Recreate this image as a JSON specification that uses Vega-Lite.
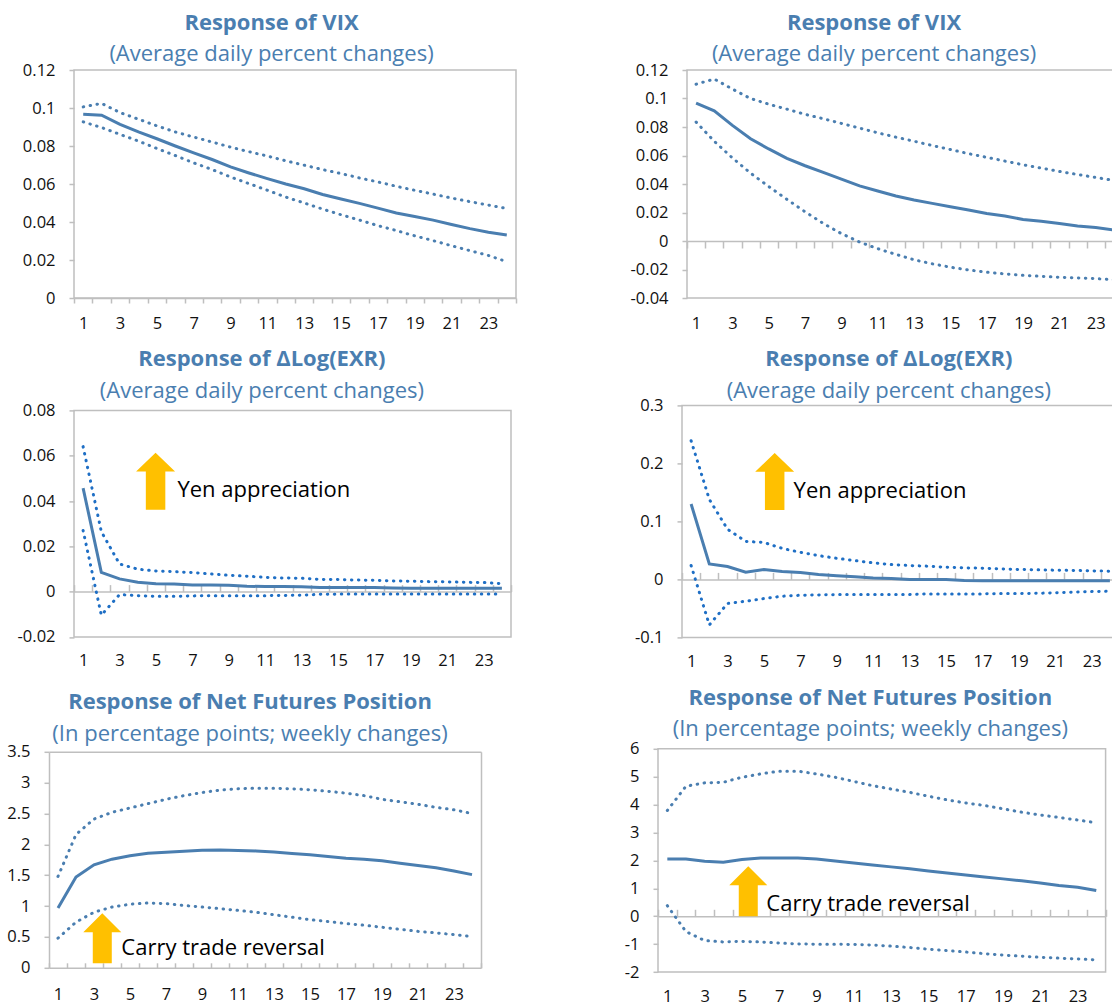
{
  "$schema": "https://vega.github.io/schema/vega-lite/v6.json",
  "padding": {"top": 10, "left": 0, "right": 0, "bottom": 0},
  "datasets": {
    "vix_l": [
      {"h":1,"irf":0.0967,"lo":0.0927,"hi":0.1006},{"h":2,"irf":0.0962,"lo":0.0897,"hi":0.1024},{"h":3,"irf":0.0914,"lo":0.0861,"hi":0.0976},{"h":4,"irf":0.0874,"lo":0.0826,"hi":0.0941},{"h":5,"irf":0.0838,"lo":0.0787,"hi":0.0906},{"h":6,"irf":0.08,"lo":0.075,"hi":0.0874},{"h":7,"irf":0.0764,"lo":0.0711,"hi":0.0847},{"h":8,"irf":0.0729,"lo":0.0676,"hi":0.0821},{"h":9,"irf":0.069,"lo":0.0637,"hi":0.0794},{"h":10,"irf":0.0658,"lo":0.0602,"hi":0.077},{"h":11,"irf":0.0628,"lo":0.0567,"hi":0.0747},{"h":12,"irf":0.06,"lo":0.0531,"hi":0.0722},{"h":13,"irf":0.0575,"lo":0.05,"hi":0.0699},{"h":14,"irf":0.0545,"lo":0.0468,"hi":0.0676},{"h":15,"irf":0.0521,"lo":0.0438,"hi":0.0655},{"h":16,"irf":0.0498,"lo":0.041,"hi":0.0632},{"h":17,"irf":0.0473,"lo":0.0381,"hi":0.0611},{"h":18,"irf":0.0447,"lo":0.0355,"hi":0.0588},{"h":19,"irf":0.0429,"lo":0.0327,"hi":0.0567},{"h":20,"irf":0.041,"lo":0.0302,"hi":0.0547},{"h":21,"irf":0.0387,"lo":0.0275,"hi":0.0526},{"h":22,"irf":0.0365,"lo":0.0249,"hi":0.0507},{"h":23,"irf":0.0346,"lo":0.0224,"hi":0.0489},{"h":24,"irf":0.0332,"lo":0.0191,"hi":0.0471}
    ],
    "vix_r": [
      {"h":1,"irf":0.0967,"lo":0.0835,"hi":0.11},{"h":2,"irf":0.0913,"lo":0.07,"hi":0.1137},{"h":3,"irf":0.0811,"lo":0.0583,"hi":0.1066},{"h":4,"irf":0.0717,"lo":0.0476,"hi":0.1},{"h":5,"irf":0.0646,"lo":0.0382,"hi":0.096},{"h":6,"irf":0.058,"lo":0.0292,"hi":0.0925},{"h":7,"irf":0.0528,"lo":0.0205,"hi":0.0889},{"h":8,"irf":0.0481,"lo":0.0123,"hi":0.0858},{"h":9,"irf":0.0434,"lo":0.0052,"hi":0.0825},{"h":10,"irf":0.0387,"lo":-0.0007,"hi":0.0792},{"h":11,"irf":0.0351,"lo":-0.0054,"hi":0.0759},{"h":12,"irf":0.0316,"lo":-0.0094,"hi":0.0729},{"h":13,"irf":0.0288,"lo":-0.0132,"hi":0.07},{"h":14,"irf":0.0264,"lo":-0.016,"hi":0.067},{"h":15,"irf":0.0241,"lo":-0.0184,"hi":0.0642},{"h":16,"irf":0.0217,"lo":-0.0203,"hi":0.0613},{"h":17,"irf":0.0193,"lo":-0.0219,"hi":0.0587},{"h":18,"irf":0.0175,"lo":-0.0231,"hi":0.0561},{"h":19,"irf":0.0151,"lo":-0.0241,"hi":0.0535},{"h":20,"irf":0.0139,"lo":-0.0248,"hi":0.0512},{"h":21,"irf":0.0123,"lo":-0.0255,"hi":0.0488},{"h":22,"irf":0.0106,"lo":-0.0259,"hi":0.0467},{"h":23,"irf":0.0094,"lo":-0.0264,"hi":0.0446},{"h":24,"irf":0.0078,"lo":-0.0272,"hi":0.0425}
    ],
    "exr_l": [
      {"h":1,"irf":0.0457,"lo":0.027,"hi":0.064},{"h":2,"irf":0.0085,"lo":-0.0104,"hi":0.0265},{"h":3,"irf":0.0056,"lo":-0.0013,"hi":0.0122},{"h":4,"irf":0.0041,"lo":-0.0018,"hi":0.0099},{"h":5,"irf":0.0035,"lo":-0.0021,"hi":0.0091},{"h":6,"irf":0.0034,"lo":-0.0021,"hi":0.0088},{"h":7,"irf":0.0029,"lo":-0.0019,"hi":0.0084},{"h":8,"irf":0.0029,"lo":-0.0018,"hi":0.0078},{"h":9,"irf":0.0028,"lo":-0.0018,"hi":0.0072},{"h":10,"irf":0.0024,"lo":-0.0018,"hi":0.0068},{"h":11,"irf":0.0022,"lo":-0.0018,"hi":0.0063},{"h":12,"irf":0.0022,"lo":-0.0017,"hi":0.006},{"h":13,"irf":0.0021,"lo":-0.0016,"hi":0.0059},{"h":14,"irf":0.0018,"lo":-0.0012,"hi":0.0054},{"h":15,"irf":0.0018,"lo":-0.0011,"hi":0.0053},{"h":16,"irf":0.0018,"lo":-0.0011,"hi":0.0051},{"h":17,"irf":0.0018,"lo":-0.0011,"hi":0.005},{"h":18,"irf":0.0016,"lo":-0.0011,"hi":0.0047},{"h":19,"irf":0.0015,"lo":-0.0011,"hi":0.0046},{"h":20,"irf":0.0015,"lo":-0.0011,"hi":0.0044},{"h":21,"irf":0.0015,"lo":-0.0011,"hi":0.0043},{"h":22,"irf":0.0015,"lo":-0.0011,"hi":0.0041},{"h":23,"irf":0.0015,"lo":-0.0011,"hi":0.004},{"h":24,"irf":0.0015,"lo":-0.0011,"hi":0.0035}
    ],
    "exr_r": [
      {"h":1,"irf":0.13,"lo":0.024,"hi":0.239},{"h":2,"irf":0.0267,"lo":-0.0785,"hi":0.138},{"h":3,"irf":0.0222,"lo":-0.0415,"hi":0.0865},{"h":4,"irf":0.0125,"lo":-0.0376,"hi":0.0655},{"h":5,"irf":0.0171,"lo":-0.033,"hi":0.0637},{"h":6,"irf":0.0137,"lo":-0.029,"hi":0.0535},{"h":7,"irf":0.012,"lo":-0.0273,"hi":0.0467},{"h":8,"irf":0.0085,"lo":-0.0267,"hi":0.041},{"h":9,"irf":0.0063,"lo":-0.0262,"hi":0.0364},{"h":10,"irf":0.0046,"lo":-0.0262,"hi":0.0324},{"h":11,"irf":0.0023,"lo":-0.0262,"hi":0.0285},{"h":12,"irf":0.0017,"lo":-0.0262,"hi":0.0256},{"h":13,"irf":0.0,"lo":-0.0262,"hi":0.0239},{"h":14,"irf":0.0,"lo":-0.025,"hi":0.0228},{"h":15,"irf":0.0,"lo":-0.025,"hi":0.021},{"h":16,"irf":-0.0017,"lo":-0.025,"hi":0.0199},{"h":17,"irf":-0.0023,"lo":-0.025,"hi":0.0194},{"h":18,"irf":-0.0023,"lo":-0.0245,"hi":0.0182},{"h":19,"irf":-0.0023,"lo":-0.0245,"hi":0.0171},{"h":20,"irf":-0.0023,"lo":-0.024,"hi":0.0165},{"h":21,"irf":-0.0023,"lo":-0.023,"hi":0.0159},{"h":22,"irf":-0.0023,"lo":-0.022,"hi":0.0154},{"h":23,"irf":-0.0023,"lo":-0.021,"hi":0.0148},{"h":24,"irf":-0.0023,"lo":-0.0205,"hi":0.014}
    ],
    "nfp_l": [
      {"h":1,"irf":0.969,"lo":0.48,"hi":1.48},{"h":2,"irf":1.47,"lo":0.74,"hi":2.16},{"h":3,"irf":1.668,"lo":0.9,"hi":2.41},{"h":4,"irf":1.76,"lo":0.985,"hi":2.52},{"h":5,"irf":1.814,"lo":1.03,"hi":2.59},{"h":6,"irf":1.857,"lo":1.05,"hi":2.66},{"h":7,"irf":1.873,"lo":1.04,"hi":2.73},{"h":8,"irf":1.889,"lo":1.01,"hi":2.79},{"h":9,"irf":1.905,"lo":0.985,"hi":2.84},{"h":10,"irf":1.91,"lo":0.958,"hi":2.88},{"h":11,"irf":1.9,"lo":0.93,"hi":2.9},{"h":12,"irf":1.894,"lo":0.9,"hi":2.91},{"h":13,"irf":1.878,"lo":0.86,"hi":2.91},{"h":14,"irf":1.851,"lo":0.82,"hi":2.9},{"h":15,"irf":1.83,"lo":0.78,"hi":2.885},{"h":16,"irf":1.803,"lo":0.75,"hi":2.86},{"h":17,"irf":1.776,"lo":0.716,"hi":2.83},{"h":18,"irf":1.76,"lo":0.69,"hi":2.79},{"h":19,"irf":1.733,"lo":0.657,"hi":2.73},{"h":20,"irf":1.695,"lo":0.624,"hi":2.69},{"h":21,"irf":1.658,"lo":0.59,"hi":2.65},{"h":22,"irf":1.62,"lo":0.565,"hi":2.6},{"h":23,"irf":1.57,"lo":0.538,"hi":2.56},{"h":24,"irf":1.51,"lo":0.506,"hi":2.5}
    ],
    "nfp_r": [
      {"h":1,"irf":2.05,"lo":0.38,"hi":3.79},{"h":2,"irf":2.05,"lo":-0.55,"hi":4.66},{"h":3,"irf":1.97,"lo":-0.87,"hi":4.78},{"h":4,"irf":1.94,"lo":-0.92,"hi":4.8},{"h":5,"irf":2.03,"lo":-0.9,"hi":4.98},{"h":6,"irf":2.09,"lo":-0.92,"hi":5.1},{"h":7,"irf":2.09,"lo":-0.96,"hi":5.2},{"h":8,"irf":2.09,"lo":-0.99,"hi":5.2},{"h":9,"irf":2.05,"lo":-1.0,"hi":5.1},{"h":10,"irf":1.98,"lo":-1.0,"hi":4.98},{"h":11,"irf":1.91,"lo":-1.01,"hi":4.83},{"h":12,"irf":1.84,"lo":-1.03,"hi":4.68},{"h":13,"irf":1.77,"lo":-1.07,"hi":4.56},{"h":14,"irf":1.7,"lo":-1.12,"hi":4.44},{"h":15,"irf":1.62,"lo":-1.18,"hi":4.3},{"h":16,"irf":1.55,"lo":-1.23,"hi":4.17},{"h":17,"irf":1.48,"lo":-1.28,"hi":4.06},{"h":18,"irf":1.41,"lo":-1.34,"hi":3.97},{"h":19,"irf":1.34,"lo":-1.39,"hi":3.85},{"h":20,"irf":1.27,"lo":-1.43,"hi":3.73},{"h":21,"irf":1.19,"lo":-1.47,"hi":3.63},{"h":22,"irf":1.1,"lo":-1.5,"hi":3.54},{"h":23,"irf":1.04,"lo":-1.53,"hi":3.45},{"h":24,"irf":0.92,"lo":-1.56,"hi":3.35}
    ],
    "notes": [
      {"panel":"exr_l","text":"Yen appreciation","ax":4.98,"ay":0.0487,"tx":6.18,"ty":0.0448},
      {"panel":"exr_r","text":"Yen appreciation","ax":5.59,"ay":0.1688,"tx":6.63,"ty":0.152},
      {"panel":"nfp_l","text":"Carry trade reversal","ax":3.46,"ay":0.48,"tx":4.52,"ty":0.32},
      {"panel":"nfp_r","text":"Carry trade reversal","ax":5.34,"ay":0.9,"tx":6.31,"ty":0.45}
    ]
  },
  "concat": [
    {
      "width": 442, "height": 228,
      "title": {"text": "Response of VIX", "subtitle": "(Average daily percent changes)", "offset": -4, "dx": -23.5},
      "layer": [
        {"data": {"name": "vix_l"}, "mark": {"type": "line", "strokeWidth": 3, "color": "#4A7EB0"},
         "encoding": {
           "x": {"field": "h", "type": "quantitative", "title": null, "scale": {"domain": [0.5, 24.5], "nice": false, "zero": false},
                 "axis": {"orient": "bottom", "values": [1,3,5,7,9,11,13,15,17,19,21,23], "domain": false, "ticks": false, "tickSize": 0, "labelPadding": 17.8, "labelFlush": false}},
           "y": {"field": "irf", "type": "quantitative", "title": null, "scale": {"domain": [0, 0.12], "nice": false, "zero": false},
                 "axis": {"orient": "left", "values": [0,0.02,0.04,0.06,0.08,0.1,0.12], "labelOverlap": false, "labelExpr": "replace(format(datum.value,'~g'),'\u2212','-')", "minExtent": 72.7, "maxExtent": 72.7}}}},
        {"data": {"name": "vix_l"}, "mark": {"type": "line", "strokeWidth": 3, "strokeDash": [0.5, 6.5], "strokeCap": "round", "color": "#4A7EB0"},
         "encoding": {
           "x": {"field": "h", "type": "quantitative", "title": null, "scale": {"domain": [0.5, 24.5], "nice": false, "zero": false},
                 "axis": {"orient": "bottom", "offset": 0, "values": [0.5,1.5,2.5,3.5,4.5,5.5,6.5,7.5,8.5,9.5,10.5,11.5,12.5,13.5,14.5,15.5,16.5,17.5,18.5,19.5,20.5,21.5,22.5,23.5,24.5], "labels": false, "domain": true, "ticks": true, "tickSize": 5}},
           "y": {"field": "lo", "type": "quantitative", "title": null, "scale": {"domain": [0, 0.12], "nice": false, "zero": false}, "axis": null}}},
        {"data": {"name": "vix_l"}, "mark": {"type": "line", "strokeWidth": 3, "strokeDash": [0.5, 6.5], "strokeCap": "round", "color": "#4A7EB0"},
         "encoding": {
           "x": {"field": "h", "type": "quantitative", "title": null, "scale": {"domain": [0.5, 24.5], "nice": false, "zero": false}, "axis": null},
           "y": {"field": "hi", "type": "quantitative", "title": null, "scale": {"domain": [0, 0.12], "nice": false, "zero": false}, "axis": null}}}
      ],
      "resolve": {"axis": {"x": "independent", "y": "independent"}}
    },
    {
      "width": 436, "height": 228,
      "title": {"text": "Response of VIX", "subtitle": "(Average daily percent changes)", "offset": -4, "dx": -31},
      "layer": [
        {"data": {"name": "vix_r"}, "mark": {"type": "line", "strokeWidth": 3, "color": "#4A7EB0"},
         "encoding": {
           "x": {"field": "h", "type": "quantitative", "title": null, "scale": {"domain": [0.5, 24.5], "nice": false, "zero": false},
                 "axis": {"orient": "bottom", "values": [1,3,5,7,9,11,13,15,17,19,21,23], "domain": false, "ticks": false, "tickSize": 0, "labelPadding": 17.8, "labelFlush": false}},
           "y": {"field": "irf", "type": "quantitative", "title": null, "scale": {"domain": [-0.04, 0.12], "nice": false, "zero": false},
                 "axis": {"orient": "left", "values": [-0.04,-0.02,0,0.02,0.04,0.06,0.08,0.1,0.12], "labelOverlap": false, "labelExpr": "replace(format(datum.value,'~g'),'\u2212','-')", "minExtent": 68, "maxExtent": 68}}}},
        {"data": {"name": "vix_r"}, "mark": {"type": "line", "strokeWidth": 3, "strokeDash": [0.5, 6.5], "strokeCap": "round", "color": "#4A7EB0"},
         "encoding": {
           "x": {"field": "h", "type": "quantitative", "title": null, "scale": {"domain": [0.5, 24.5], "nice": false, "zero": false},
                 "axis": {"orient": "bottom", "offset": -57, "values": [0.5,1.5,2.5,3.5,4.5,5.5,6.5,7.5,8.5,9.5,10.5,11.5,12.5,13.5,14.5,15.5,16.5,17.5,18.5,19.5,20.5,21.5,22.5,23.5,24.5], "labels": false, "domain": true, "ticks": true, "tickSize": 7}},
           "y": {"field": "lo", "type": "quantitative", "title": null, "scale": {"domain": [-0.04, 0.12], "nice": false, "zero": false}, "axis": null}}},
        {"data": {"name": "vix_r"}, "mark": {"type": "line", "strokeWidth": 3, "strokeDash": [0.5, 6.5], "strokeCap": "round", "color": "#4A7EB0"},
         "encoding": {
           "x": {"field": "h", "type": "quantitative", "title": null, "scale": {"domain": [0.5, 24.5], "nice": false, "zero": false}, "axis": null},
           "y": {"field": "hi", "type": "quantitative", "title": null, "scale": {"domain": [-0.04, 0.12], "nice": false, "zero": false}, "axis": null}}}
      ],
      "resolve": {"axis": {"x": "independent", "y": "independent"}}
    },
    {
      "width": 437, "height": 226.5,
      "title": {"text": "Response of ΔLog(EXR)", "subtitle": "(Average daily percent changes)", "offset": -0.5, "dx": -30.6},
      "layer": [
        {"data": {"name": "exr_l"}, "mark": {"type": "line", "strokeWidth": 3, "color": "#4A7EB0"},
         "encoding": {
           "x": {"field": "h", "type": "quantitative", "title": null, "scale": {"domain": [0.5, 24.5], "nice": false, "zero": false},
                 "axis": {"orient": "bottom", "values": [1,3,5,7,9,11,13,15,17,19,21,23], "domain": false, "ticks": false, "tickSize": 0, "labelPadding": 16, "labelFlush": false, "minExtent": 33.4}},
           "y": {"field": "irf", "type": "quantitative", "title": null, "scale": {"domain": [-0.02, 0.08], "nice": false, "zero": false},
                 "axis": {"orient": "left", "values": [-0.02,0,0.02,0.04,0.06,0.08], "labelOverlap": false, "labelExpr": "replace(format(datum.value,'~g'),'\u2212','-')", "minExtent": 69.3, "maxExtent": 69.3}}}},
        {"data": {"name": "exr_l"}, "mark": {"type": "line", "strokeWidth": 3, "strokeDash": [0.5, 6.5], "strokeCap": "round", "color": "#1F6FC5"},
         "encoding": {
           "x": {"field": "h", "type": "quantitative", "title": null, "scale": {"domain": [0.5, 24.5], "nice": false, "zero": false},
                 "axis": {"orient": "top", "offset": -181.2, "values": [0.5,1.5,2.5,3.5,4.5,5.5,6.5,7.5,8.5,9.5,10.5,11.5,12.5,13.5,14.5,15.5,16.5,17.5,18.5,19.5,20.5,21.5,22.5,23.5,24.5], "labels": false, "domain": true, "ticks": true, "tickSize": 7}},
           "y": {"field": "lo", "type": "quantitative", "title": null, "scale": {"domain": [-0.02, 0.08], "nice": false, "zero": false}, "axis": null}}},
        {"data": {"name": "exr_l"}, "mark": {"type": "line", "strokeWidth": 3, "strokeDash": [0.5, 6.5], "strokeCap": "round", "color": "#1F6FC5"},
         "encoding": {
           "x": {"field": "h", "type": "quantitative", "title": null, "scale": {"domain": [0.5, 24.5], "nice": false, "zero": false}, "axis": null},
           "y": {"field": "hi", "type": "quantitative", "title": null, "scale": {"domain": [-0.02, 0.08], "nice": false, "zero": false}, "axis": null}}},
        {"data": {"name": "notes"}, "transform": [{"filter": "datum.panel == 'exr_l'"}],
         "mark": {"type": "point", "shape": "M0,-1L0.684,-0.344L0.342,-0.344L0.342,1L-0.342,1L-0.342,-0.344L-0.684,-0.344Z", "size": 3249, "filled": true, "color": "#FFC000", "opacity": 1, "strokeWidth": 0},
         "encoding": {
           "x": {"field": "ax", "type": "quantitative", "title": null, "scale": {"domain": [0.5, 24.5], "nice": false, "zero": false}, "axis": null},
           "y": {"field": "ay", "type": "quantitative", "title": null, "scale": {"domain": [-0.02, 0.08], "nice": false, "zero": false}, "axis": null}}},
        {"data": {"name": "notes"}, "transform": [{"filter": "datum.panel == 'exr_l'"}],
         "mark": {"type": "text", "align": "left", "baseline": "middle", "fontSize": 22, "font": "Open Sans", "color": "#000000"},
         "encoding": {
           "x": {"field": "tx", "type": "quantitative", "title": null, "scale": {"domain": [0.5, 24.5], "nice": false, "zero": false}, "axis": null},
           "y": {"field": "ty", "type": "quantitative", "title": null, "scale": {"domain": [-0.02, 0.08], "nice": false, "zero": false}, "axis": null},
           "text": {"field": "text"}}}
      ],
      "resolve": {"axis": {"x": "independent", "y": "independent"}}
    },
    {
      "width": 437, "height": 232,
      "title": {"text": "Response of ΔLog(EXR)", "subtitle": "(Average daily percent changes)", "offset": -5.4, "dx": -11.7},
      "layer": [
        {"data": {"name": "exr_r"}, "mark": {"type": "line", "strokeWidth": 3, "color": "#4A7EB0"},
         "encoding": {
           "x": {"field": "h", "type": "quantitative", "title": null, "scale": {"domain": [0.5, 24.5], "nice": false, "zero": false},
                 "axis": {"orient": "bottom", "values": [1,3,5,7,9,11,13,15,17,19,21,23], "domain": false, "ticks": false, "tickSize": 0, "labelPadding": 16.5, "labelFlush": false, "minExtent": 33.4}},
           "y": {"field": "irf", "type": "quantitative", "title": null, "scale": {"domain": [-0.1, 0.3], "nice": false, "zero": false},
                 "axis": {"orient": "left", "values": [-0.1,0,0.1,0.2,0.3], "labelOverlap": false, "labelExpr": "replace(format(datum.value,'~g'),'\u2212','-')", "minExtent": 62.7, "maxExtent": 62.7}}}},
        {"data": {"name": "exr_r"}, "mark": {"type": "line", "strokeWidth": 3, "strokeDash": [0.5, 6.5], "strokeCap": "round", "color": "#1F6FC5"},
         "encoding": {
           "x": {"field": "h", "type": "quantitative", "title": null, "scale": {"domain": [0.5, 24.5], "nice": false, "zero": false},
                 "axis": {"orient": "top", "offset": -174, "values": [0.5,1.5,2.5,3.5,4.5,5.5,6.5,7.5,8.5,9.5,10.5,11.5,12.5,13.5,14.5,15.5,16.5,17.5,18.5,19.5,20.5,21.5,22.5,23.5,24.5], "labels": false, "domain": true, "ticks": true, "tickSize": 7}},
           "y": {"field": "lo", "type": "quantitative", "title": null, "scale": {"domain": [-0.1, 0.3], "nice": false, "zero": false}, "axis": null}}},
        {"data": {"name": "exr_r"}, "mark": {"type": "line", "strokeWidth": 3, "strokeDash": [0.5, 6.5], "strokeCap": "round", "color": "#1F6FC5"},
         "encoding": {
           "x": {"field": "h", "type": "quantitative", "title": null, "scale": {"domain": [0.5, 24.5], "nice": false, "zero": false}, "axis": null},
           "y": {"field": "hi", "type": "quantitative", "title": null, "scale": {"domain": [-0.1, 0.3], "nice": false, "zero": false}, "axis": null}}},
        {"data": {"name": "notes"}, "transform": [{"filter": "datum.panel == 'exr_r'"}],
         "mark": {"type": "point", "shape": "M0,-1L0.684,-0.344L0.342,-0.344L0.342,1L-0.342,1L-0.342,-0.344L-0.684,-0.344Z", "size": 3249, "filled": true, "color": "#FFC000", "opacity": 1, "strokeWidth": 0},
         "encoding": {
           "x": {"field": "ax", "type": "quantitative", "title": null, "scale": {"domain": [0.5, 24.5], "nice": false, "zero": false}, "axis": null},
           "y": {"field": "ay", "type": "quantitative", "title": null, "scale": {"domain": [-0.1, 0.3], "nice": false, "zero": false}, "axis": null}}},
        {"data": {"name": "notes"}, "transform": [{"filter": "datum.panel == 'exr_r'"}],
         "mark": {"type": "text", "align": "left", "baseline": "middle", "fontSize": 22, "font": "Open Sans", "color": "#000000"},
         "encoding": {
           "x": {"field": "tx", "type": "quantitative", "title": null, "scale": {"domain": [0.5, 24.5], "nice": false, "zero": false}, "axis": null},
           "y": {"field": "ty", "type": "quantitative", "title": null, "scale": {"domain": [-0.1, 0.3], "nice": false, "zero": false}, "axis": null},
           "text": {"field": "text"}}}
      ],
      "resolve": {"axis": {"x": "independent", "y": "independent"}}
    },
    {
      "width": 407, "height": 216,
      "view": {"stroke": null},
      "title": {"text": "Response of Net Futures Position", "subtitle": "(In percentage points; weekly changes)", "offset": -2, "dx": -27.5},
      "layer": [
        {"data": {"name": "nfp_l"}, "mark": {"type": "line", "strokeWidth": 3, "color": "#4A7EB0"},
         "encoding": {
           "x": {"field": "h", "type": "quantitative", "title": null, "scale": {"domain": [0.5, 24.5], "range": [-25, 407], "nice": false, "zero": false},
                 "axis": {"orient": "bottom", "values": [1,3,5,7,9,11,13,15,17,19,21,23], "domain": false, "ticks": false, "tickSize": 0, "labelPadding": 18.3, "labelFlush": false}},
           "y": {"field": "irf", "type": "quantitative", "title": null, "scale": {"domain": [0, 3.5], "nice": false, "zero": false},
                 "axis": {"orient": "left", "offset": 25, "domain": true, "values": [0,0.5,1,1.5,2,2.5,3,3.5], "labelOverlap": false, "labelExpr": "replace(format(datum.value,'~g'),'\u2212','-')"}}}},
        {"data": {"name": "nfp_l"}, "mark": {"type": "line", "strokeWidth": 3, "strokeDash": [0.5, 6.5], "strokeCap": "round", "color": "#4A7EB0"},
         "encoding": {
           "x": {"field": "h", "type": "quantitative", "title": null, "scale": {"domain": [0.5, 24.5], "range": [-25, 407], "nice": false, "zero": false},
                 "axis": {"orient": "top", "offset": -216, "values": [0.5,1.5,2.5,3.5,4.5,5.5,6.5,7.5,8.5,9.5,10.5,11.5,12.5,13.5,14.5,15.5,16.5,17.5,18.5,19.5,20.5,21.5,22.5,23.5,24.5], "labels": false, "domain": true, "ticks": true, "tickSize": 5}},
           "y": {"field": "lo", "type": "quantitative", "title": null, "scale": {"domain": [0, 3.5], "nice": false, "zero": false},
                 "axis": {"orient": "right", "domain": true, "ticks": false, "labels": false}}}},
        {"data": {"name": "nfp_l"}, "mark": {"type": "line", "strokeWidth": 3, "strokeDash": [0.5, 6.5], "strokeCap": "round", "color": "#4A7EB0"},
         "encoding": {
           "x": {"field": "h", "type": "quantitative", "title": null, "scale": {"domain": [0.5, 24.5], "range": [-25, 407], "nice": false, "zero": false},
                 "axis": {"orient": "top", "offset": 0, "domain": true, "ticks": false, "labels": false}},
           "y": {"field": "hi", "type": "quantitative", "title": null, "scale": {"domain": [0, 3.5], "nice": false, "zero": false}, "axis": null}}},
        {"data": {"name": "notes"}, "transform": [{"filter": "datum.panel == 'nfp_l'"}],
         "mark": {"type": "point", "shape": "M0,-1L0.76,-0.24L0.38,-0.24L0.38,1L-0.38,1L-0.38,-0.24L-0.76,-0.24Z", "size": 2500, "filled": true, "color": "#FFC000", "opacity": 1, "strokeWidth": 0},
         "encoding": {
           "x": {"field": "ax", "type": "quantitative", "title": null, "scale": {"domain": [0.5, 24.5], "range": [-25, 407], "nice": false, "zero": false}, "axis": null},
           "y": {"field": "ay", "type": "quantitative", "title": null, "scale": {"domain": [0, 3.5], "nice": false, "zero": false}, "axis": null}}},
        {"data": {"name": "notes"}, "transform": [{"filter": "datum.panel == 'nfp_l'"}],
         "mark": {"type": "text", "align": "left", "baseline": "middle", "fontSize": 22, "font": "Open Sans", "color": "#000000"},
         "encoding": {
           "x": {"field": "tx", "type": "quantitative", "title": null, "scale": {"domain": [0.5, 24.5], "range": [-25, 407], "nice": false, "zero": false}, "axis": null},
           "y": {"field": "ty", "type": "quantitative", "title": null, "scale": {"domain": [0, 3.5], "nice": false, "zero": false}, "axis": null},
           "text": {"field": "text"}}}
      ],
      "resolve": {"axis": {"x": "independent", "y": "independent"}}
    },
    {
      "width": 447.6, "height": 223.3,
      "title": {"text": "Response of Net Futures Position", "subtitle": "(In percentage points; weekly changes)", "offset": -0.3, "dx": -11.5},
      "layer": [
        {"data": {"name": "nfp_r"}, "mark": {"type": "line", "strokeWidth": 3, "color": "#4A7EB0"},
         "encoding": {
           "x": {"field": "h", "type": "quantitative", "title": null, "scale": {"domain": [0.5, 24.5], "nice": false, "zero": false},
                 "axis": {"orient": "bottom", "values": [1,3,5,7,9,11,13,15,17,19,21,23], "domain": false, "ticks": false, "tickSize": 0, "labelPadding": 16.5, "labelFlush": false}},
           "y": {"field": "irf", "type": "quantitative", "title": null, "scale": {"domain": [-2, 6], "nice": false, "zero": false},
                 "axis": {"orient": "left", "values": [-2,-1,0,1,2,3,4,5,6], "labelOverlap": false, "labelExpr": "replace(format(datum.value,'~g'),'\u2212','-')", "minExtent": 39, "maxExtent": 39}}}},
        {"data": {"name": "nfp_r"}, "mark": {"type": "line", "strokeWidth": 3, "strokeDash": [0.5, 6.5], "strokeCap": "round", "color": "#4A7EB0"},
         "encoding": {
           "x": {"field": "h", "type": "quantitative", "title": null, "scale": {"domain": [0.5, 24.5], "nice": false, "zero": false},
                 "axis": {"orient": "top", "offset": -167.5, "values": [0.5,1.5,2.5,3.5,4.5,5.5,6.5,7.5,8.5,9.5,10.5,11.5,12.5,13.5,14.5,15.5,16.5,17.5,18.5,19.5,20.5,21.5,22.5,23.5,24.5], "labels": false, "domain": true, "ticks": true, "tickSize": 7}},
           "y": {"field": "lo", "type": "quantitative", "title": null, "scale": {"domain": [-2, 6], "nice": false, "zero": false}, "axis": null}}},
        {"data": {"name": "nfp_r"}, "mark": {"type": "line", "strokeWidth": 3, "strokeDash": [0.5, 6.5], "strokeCap": "round", "color": "#4A7EB0"},
         "encoding": {
           "x": {"field": "h", "type": "quantitative", "title": null, "scale": {"domain": [0.5, 24.5], "nice": false, "zero": false}, "axis": null},
           "y": {"field": "hi", "type": "quantitative", "title": null, "scale": {"domain": [-2, 6], "nice": false, "zero": false}, "axis": null}}},
        {"data": {"name": "notes"}, "transform": [{"filter": "datum.panel == 'nfp_r'"}],
         "mark": {"type": "point", "shape": "M0,-1L0.76,-0.24L0.38,-0.24L0.38,1L-0.38,1L-0.38,-0.24L-0.76,-0.24Z", "size": 2500, "filled": true, "color": "#FFC000", "opacity": 1, "strokeWidth": 0},
         "encoding": {
           "x": {"field": "ax", "type": "quantitative", "title": null, "scale": {"domain": [0.5, 24.5], "nice": false, "zero": false}, "axis": null},
           "y": {"field": "ay", "type": "quantitative", "title": null, "scale": {"domain": [-2, 6], "nice": false, "zero": false}, "axis": null}}},
        {"data": {"name": "notes"}, "transform": [{"filter": "datum.panel == 'nfp_r'"}],
         "mark": {"type": "text", "align": "left", "baseline": "middle", "fontSize": 22, "font": "Open Sans", "color": "#000000"},
         "encoding": {
           "x": {"field": "tx", "type": "quantitative", "title": null, "scale": {"domain": [0.5, 24.5], "nice": false, "zero": false}, "axis": null},
           "y": {"field": "ty", "type": "quantitative", "title": null, "scale": {"domain": [-2, 6], "nice": false, "zero": false}, "axis": null},
           "text": {"field": "text"}}}
      ],
      "resolve": {"axis": {"x": "independent", "y": "independent"}}
    }
  ],
  "columns": 2,
  "align": "none",
  "spacing": {"row": 13.4, "column": 100},
  "config": {
    "font": "Open Sans",
    "view": {"stroke": "#BFBFBF", "strokeWidth": 1.5},
    "axis": {"grid": false, "labelFont": "Open Sans", "labelFontSize": 16.5, "labelColor": "#111111", "labelOverlap": false, "domainColor": "#BFBFBF", "domainWidth": 1.5, "tickColor": "#BFBFBF", "tickWidth": 1.5},
    "axisY": {"domain": false, "tickSize": 5, "labelPadding": 14},
    "title": {"font": "Open Sans", "fontSize": 22, "fontWeight": "bold", "color": "#4A7EB0", "subtitleFont": "Open Sans", "subtitleFontSize": 22, "subtitleColor": "#4A7EB0", "subtitlePadding": 9.5, "anchor": "middle", "frame": "group"}
  }
}
